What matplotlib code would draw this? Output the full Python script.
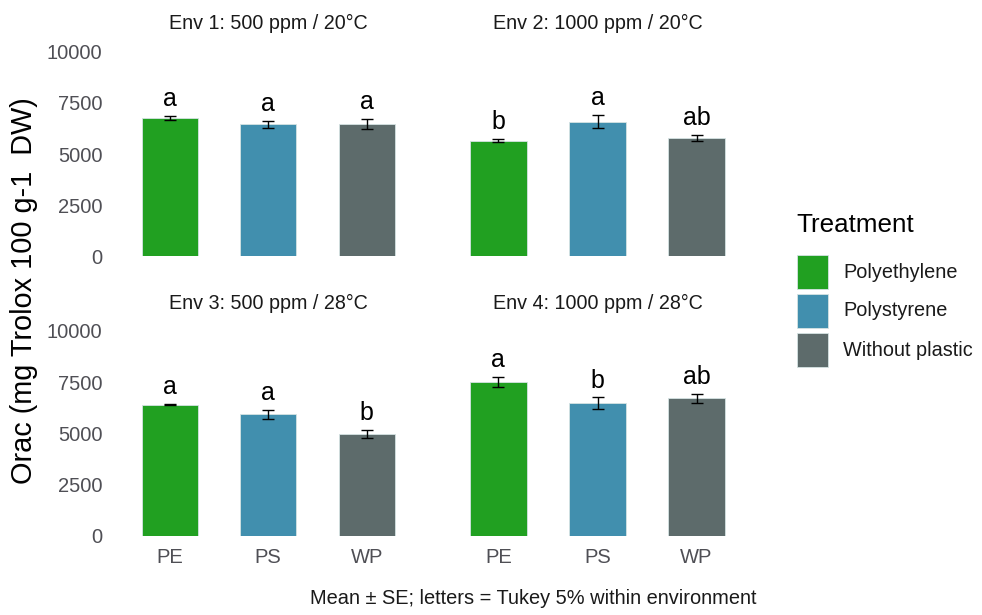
import matplotlib.pyplot as plt
from matplotlib.patches import Rectangle

plt.rcParams['font.family'] = ['Liberation Sans', 'DejaVu Sans']

# ORAC means and standard errors per environment (PE, PS, WP)
envs = ['Env 1: 500 ppm / 20°C', 'Env 2: 1000 ppm / 20°C',
        'Env 3: 500 ppm / 28°C', 'Env 4: 1000 ppm / 28°C']
groups = ['PE', 'PS', 'WP']
treatments = ['Polyethylene', 'Polystyrene', 'Without plastic']
means = [[6760, 6440, 6470],
         [5650, 6580, 5780],
         [6390, 5930, 4960],
         [7510, 6480, 6700]]
ses = [[100, 160, 260],
       [70, 330, 170],
       [30, 230, 200],
       [240, 270, 240]]
letters = [['a', 'a', 'a'],
           ['b', 'a', 'ab'],
           ['a', 'a', 'b'],
           ['a', 'b', 'ab']]
colors = ['#21A021', '#418FAE', '#5D6B6B']
yticks = [0, 2500, 5000, 7500, 10000]

W, H = 982, 615
fig = plt.figure(figsize=(W / 100, H / 100), dpi=100)

def px_axes(x0, y0, x1, y1):
    # axes from pixel box (top-left origin)
    return fig.add_axes([x0 / W, 1 - y1 / H, (x1 - x0) / W, (y1 - y0) / H])

boxes = [(110.6, 51.5, 425.8, 256.5), (439, 51.5, 756, 256.5),
         (110.6, 331, 425.8, 535.5), (439, 331, 756, 535.5)]

for i, box in enumerate(boxes):
    ax = px_axes(*box)
    xs = range(1, len(groups) + 1)
    ax.bar(xs, means[i], width=0.57, color=colors, edgecolor='#d5e3e3',
           linewidth=0.6, zorder=2)
    ax.errorbar(xs, means[i], yerr=ses[i], fmt='none', ecolor='black',
                elinewidth=1.0, capsize=4.5, capthick=1.0, zorder=3)
    for x, m, s, lab in zip(xs, means[i], ses[i], letters[i]):
        ax.text(x, m + s + 480, lab, ha='center', va='baseline',
                fontsize=18, color='black')
    ax.set_xlim(0.4, 3.6)
    ax.set_ylim(0, 10000)
    for sp in ax.spines.values():
        sp.set_visible(False)
    ax.tick_params(length=0, labelsize=14.5, colors='#4f4f55', pad=6)
    ax.set_xticks(list(xs))
    ax.set_yticks(yticks)
    if i < 2:
        ax.set_xticklabels([])
    else:
        ax.set_xticklabels(groups)
        ax.tick_params(axis='x', pad=9)
    if i % 2 == 1:
        ax.set_yticklabels([])
    else:
        ax.set_yticklabels([str(t) for t in yticks])
    ax.set_title(envs[i], fontsize=14.2, color='#1a1a1a', pad=16)

fig.text(24 / W, 1 - 291 / H, 'Orac (mg Trolox 100 g-1  DW)', rotation=90,
         ha='center', va='center', fontsize=20.8, color='black')

fig.text(756 / W, 1 - 598 / H, 'Mean ± SE; letters = Tukey 5% within environment',
         ha='right', va='center', fontsize=14.4, color='#1a1a1a')

# legend
fig.text(796 / W, 1 - 225 / H, 'Treatment', ha='left', va='center',
         fontsize=18.7, color='black')
for k, (name, c) in enumerate(zip(treatments, colors)):
    top = 255 + 39 * k
    fig.add_artist(Rectangle((797 / W, 1 - (top + 34) / H), 31 / W, 34 / H,
                             transform=fig.transFigure, facecolor=c,
                             edgecolor='#d5e3e3', linewidth=0.6))
    fig.text(843 / W, 1 - (top + 17) / H, name, ha='left', va='center',
             fontsize=14.3, color='#1a1a1a')

fig.savefig('out.png', dpi=100)
